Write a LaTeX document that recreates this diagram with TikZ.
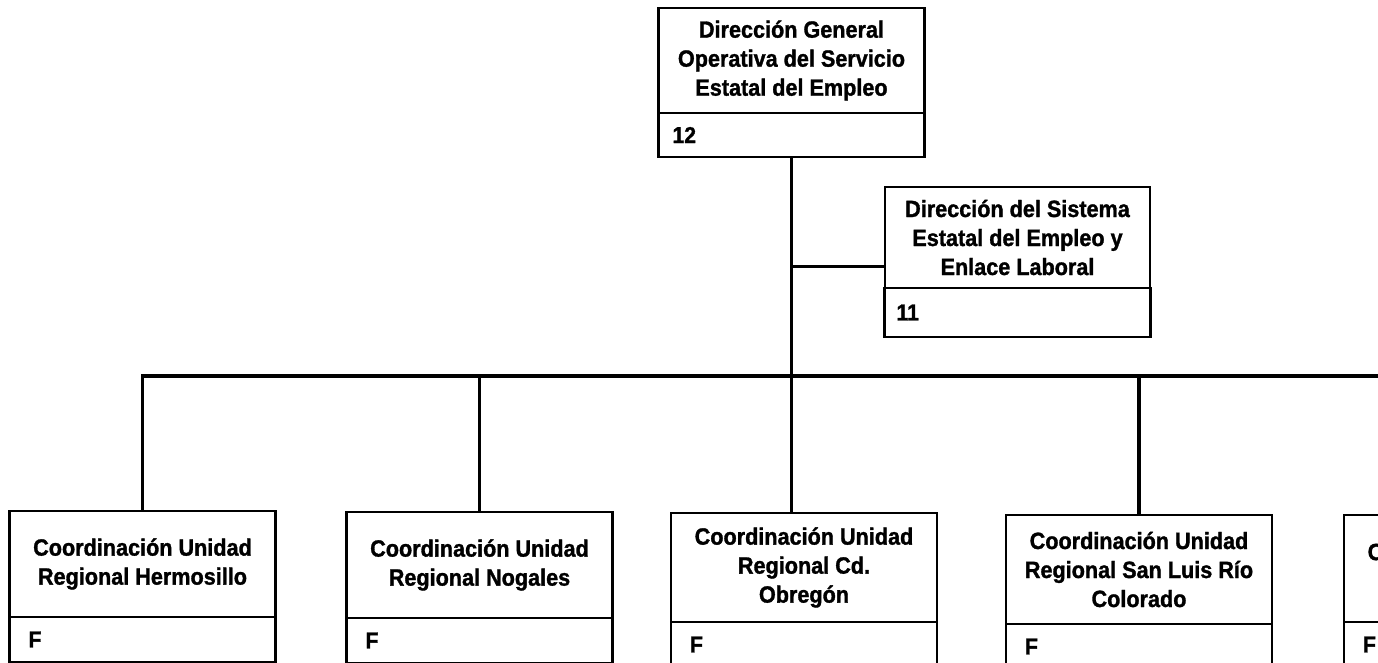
\documentclass[tikz,border=0pt]{standalone}
\usepackage{fontspec}
\setmainfont{Liberation Sans}[BoldFeatures={FakeStretch=0.92,FakeBold=1.3}]
\usepackage{tikz}
\usetikzlibrary{calc,positioning}
\definecolor{OrgInk}{HTML}{000000}

\begin{document}
\begin{tikzpicture}[x=1pt,y=-1pt,
  puesto/.style={draw=OrgInk,line width=2.6pt,outer sep=0pt,inner sep=0pt,minimum width=266pt,
    align=center,font=\bfseries\fontsize{23.5}{29}\selectfont},
  clave/.style={draw=OrgInk,line width=2.6pt,outer sep=0pt,minimum width=266pt,minimum height=45pt,
    inner xsep=19pt,inner ysep=0pt,text width=266pt-2*\pgfkeysvalueof{/pgf/inner xsep},align=left,
    font=\bfseries\fontsize{23}{26}\selectfont},
  liga/.style={OrgInk,line width=3.8pt}]
  \path[use as bounding box,clip] (0,0) rectangle (1378,663);
  % direcciones
  \node[puesto,minimum height=105pt] (gral) at (791.5,60.5) {Dirección General\\Operativa del Servicio\\Estatal del Empleo};
  \node[clave,minimum height=44pt,inner xsep=14pt,below=0pt of gral] (clave-gral) {12};
  \node[puesto,minimum height=101pt,minimum width=265pt] (sist) at (1017.5,237.5) {Dirección del Sistema\\Estatal del Empleo y\\Enlace Laboral};
  \node[clave,minimum height=49pt,inner xsep=12pt,below=0pt of sist] (clave-sist) {11};
  % coordinaciones unidad regional
  \foreach \n/\x/\y/\h/\txt in {
      cu1/142.5/564/106/{Coordinación Unidad\\Regional Hermosillo},
      cu2/479.5/565/106/{Coordinación Unidad\\Regional Nogales},
      cu3/804/567.5/109/{Coordinación Unidad\\Regional Cd.\\Obregón},
      cu4/1139/569.5/109/{Coordinación Unidad\\Regional San Luis Río\\Colorado},
      cu5/1477/568.5/107/{Coordinación Unidad\\Regional}}{
    \node[puesto,minimum height=\h pt] (\n) at (\x,\y) {\txt};
    \node[clave,below=0pt of \n] (clave-\n) {F};
  }
  % lineas de mando
  \coordinate (bus) at (0,376);
  \coordinate (sistmid) at ($(sist.north west)!.53!(clave-sist.south west)$);
  \draw[liga] (clave-gral.south) -- (clave-gral.south |- cu3.north);
  \draw[liga] (clave-gral.south |- sistmid) -- (sistmid);
  \draw[liga] (cu1.north) -- (cu1.north |- bus) -- (cu5.north |- bus) -- (cu5.north);
  \foreach \n in {cu2,cu4}
    \draw[liga] (\n.north) -- (\n.north |- bus);
\end{tikzpicture}
\end{document}
